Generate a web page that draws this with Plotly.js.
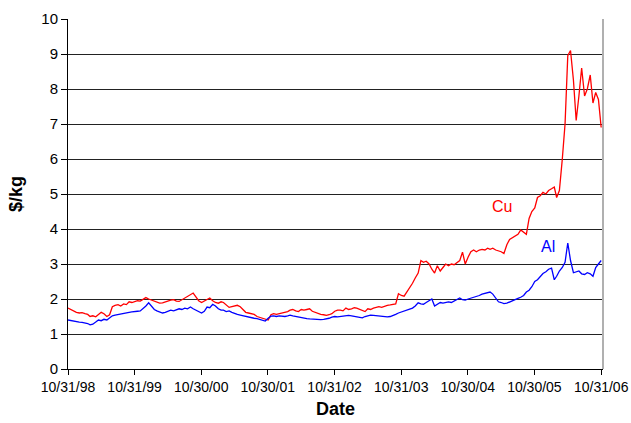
<!DOCTYPE html>
<html>
<head>
<meta charset="utf-8">
<script src="https://cdn.plot.ly/plotly-3.0.1.min.js"></script>
<style>html,body{margin:0;padding:0;background:#fff;}#chart{width:631px;height:423px;}</style>
</head>
<body>
<div id="chart"></div>
<script>
// Sampling grid: 1st and 16th of each month, Nov 1998 .. Oct 2006, plus 10/31/06
const dates = [];
for (let m = 0; m < 96; m++) {
  const y = 1998 + Math.floor((10 + m) / 12);
  const mo = String((10 + m) % 12 + 1).padStart(2, '0');
  dates.push(y + '-' + mo + '-01', y + '-' + mo + '-16');
}
dates[0] = '1998-10-31';
dates.push('2006-10-31');

// Copper price, $/kg
const cu = [
  1.74,1.70, 1.64,1.62, 1.60,1.61, 1.58,1.56, 1.50,1.52, 1.49,1.55, 1.62,1.58, 1.50,1.55, 1.78,1.82, 1.84,1.80, 1.86,1.84, 1.92,1.90,
  1.92,1.95, 1.94,1.98, 2.04,2.00, 1.97,1.95, 1.92,1.88, 1.89,1.92, 1.94,1.97, 1.98,1.94, 1.93,1.98, 2.02,2.06, 2.12,2.17, 2.06,1.95,
  1.90,1.95, 2.00,2.03, 1.95,1.90, 1.88,1.92, 1.90,1.84, 1.76,1.78, 1.80,1.82, 1.78,1.70, 1.62,1.60, 1.58,1.56, 1.50,1.48, 1.45,1.42,
  1.40,1.55, 1.58,1.56, 1.58,1.60, 1.62,1.64, 1.68,1.70, 1.66,1.64, 1.70,1.68, 1.70,1.72, 1.65,1.62, 1.60,1.56, 1.55,1.53, 1.55,1.58,
  1.65,1.68, 1.68,1.66, 1.74,1.70, 1.72,1.75, 1.74,1.70, 1.66,1.64, 1.72,1.70, 1.74,1.76, 1.78,1.76, 1.80,1.82, 1.83,1.84, 1.86,2.15,
  2.10,2.08, 2.20,2.30, 2.45,2.60, 2.74,3.10, 3.05,3.08, 3.00,2.85, 2.74,2.95, 2.80,2.90, 3.00,2.95, 3.00,2.98, 3.05,3.10, 3.34,3.00,
  3.20,3.35, 3.40,3.35, 3.40,3.42, 3.40,3.45, 3.42,3.45, 3.40,3.38, 3.35,3.30, 3.55,3.70, 3.75,3.80, 3.85,3.97, 3.90,3.85, 4.30,4.50,
  4.60,4.90, 4.95,5.05, 5.00,5.10, 5.15,5.20, 4.90,5.10, 6.00,7.00, 8.95,9.10, 8.25,7.10, 7.80,8.60, 7.80,8.00, 8.40,7.60, 7.90,7.70,
  6.90
];

// Aluminium price, $/kg
const al = [
  1.40,1.38, 1.36,1.35, 1.34,1.33, 1.32,1.30, 1.26,1.28, 1.34,1.40, 1.38,1.42, 1.40,1.46, 1.52,1.54, 1.56,1.58, 1.60,1.60, 1.62,1.63,
  1.63,1.65, 1.66,1.72, 1.80,1.89, 1.78,1.70, 1.66,1.62, 1.60,1.62, 1.65,1.68, 1.66,1.70, 1.72,1.70, 1.74,1.72, 1.77,1.72, 1.68,1.62,
  1.60,1.65, 1.77,1.75, 1.85,1.80, 1.72,1.68, 1.68,1.64, 1.66,1.62, 1.58,1.56, 1.54,1.52, 1.50,1.48, 1.46,1.45, 1.44,1.41, 1.39,1.37,
  1.45,1.51, 1.52,1.50, 1.52,1.50, 1.50,1.52, 1.54,1.52, 1.50,1.48, 1.47,1.45, 1.44,1.43, 1.42,1.41, 1.40,1.41, 1.42,1.43, 1.45,1.48,
  1.50,1.49, 1.50,1.52, 1.54,1.53, 1.52,1.50, 1.48,1.46, 1.46,1.50, 1.52,1.54, 1.53,1.52, 1.51,1.50, 1.50,1.49, 1.50,1.52, 1.56,1.60,
  1.63,1.66, 1.70,1.72, 1.74,1.80, 1.89,1.86, 1.85,1.90, 1.95,2.00, 1.80,1.86, 1.90,1.88, 1.89,1.92, 1.90,1.95, 2.00,2.03, 1.98,1.97,
  2.00,2.02, 2.05,2.08, 2.10,2.14, 2.16,2.18, 2.20,2.14, 2.02,1.92, 1.90,1.87, 1.88,1.92, 1.96,2.00, 2.02,2.05, 2.10,2.20, 2.25,2.35,
  2.50,2.55, 2.65,2.73, 2.78,2.85, 2.88,2.55, 2.65,2.80, 2.90,3.05, 3.60,3.10, 2.75,2.78, 2.80,2.72, 2.70,2.75, 2.72,2.65, 2.90,3.00,
  3.10
];

const tickDates = ['1998-10-31','1999-10-31','2000-10-30','2001-10-30','2002-10-31','2003-10-31','2004-10-30','2005-10-30','2006-10-31'];
const tickLabels = ['10/31/98','10/31/99','10/30/00','10/30/01','10/31/02','10/31/03','10/30/04','10/30/05','10/31/06'];
const yTicks = [0,1,2,3,4,5,6,7,8,9,10];

const seriesNames = ['Cu','Al'];
const seriesColors = ['#ff0000','#0000ff'];
const labelPos = [{x:'2005-05-07', y:4.63}, {x:'2006-01-15', y:3.51}];

const FONT = 'Liberation Sans, Arial, sans-serif';

const traces = [cu, al].map((vals, i) => ({
  x: dates, y: vals, type: 'scatter', mode: 'lines', name: seriesNames[i],
  line: {color: seriesColors[i], width: 1.3}, hoverinfo: 'skip'
}));

const layout = {
  width: 631, height: 423,
  margin: {l: 68, r: 28, t: 19, b: 54},
  paper_bgcolor: '#ffffff', plot_bgcolor: '#ffffff',
  showlegend: false,
  font: {family: FONT, color: '#000', size: 15},
  xaxis: {
    type: 'date', range: ['1998-10-31', '2006-11-10'],
    tickmode: 'array', tickvals: tickDates, ticktext: tickLabels,
    ticks: 'outside', ticklen: 5, tickcolor: '#000', tickwidth: 1,
    showgrid: false, zeroline: false,
    showline: true, linecolor: '#000', linewidth: 1,
    tickfont: {family: FONT, size: 14, color: '#000'},
    title: {text: '<b>Date</b>', font: {family: FONT, size: 18, color: '#000'}, standoff: 8}
  },
  yaxis: {
    range: [0, 10], tickmode: 'array', tickvals: yTicks,
    ticks: 'outside', ticklen: 6, tickcolor: '#000', tickwidth: 1,
    showgrid: true, gridcolor: '#222', gridwidth: 1, zeroline: false,
    showline: true, linecolor: '#000', linewidth: 1,
    tickfont: {family: FONT, size: 15, color: '#000'},
    title: {text: '<b>$/kg</b>', font: {family: FONT, size: 18, color: '#000'}, standoff: 14}
  },
  shapes: [{type: 'line', xref: 'paper', yref: 'paper', x0: 1, x1: 1, y0: 0, y1: 1,
            line: {color: '#b0b0b0', width: 2}}],
  annotations: labelPos.map((p, i) => ({
    x: p.x, y: p.y, xref: 'x', yref: 'y', text: seriesNames[i], showarrow: false,
    font: {family: FONT, size: 16, color: seriesColors[i]}
  }))
};

Plotly.newPlot('chart', traces, layout, {staticPlot: true, displayModeBar: false});
</script>
</body>
</html>
